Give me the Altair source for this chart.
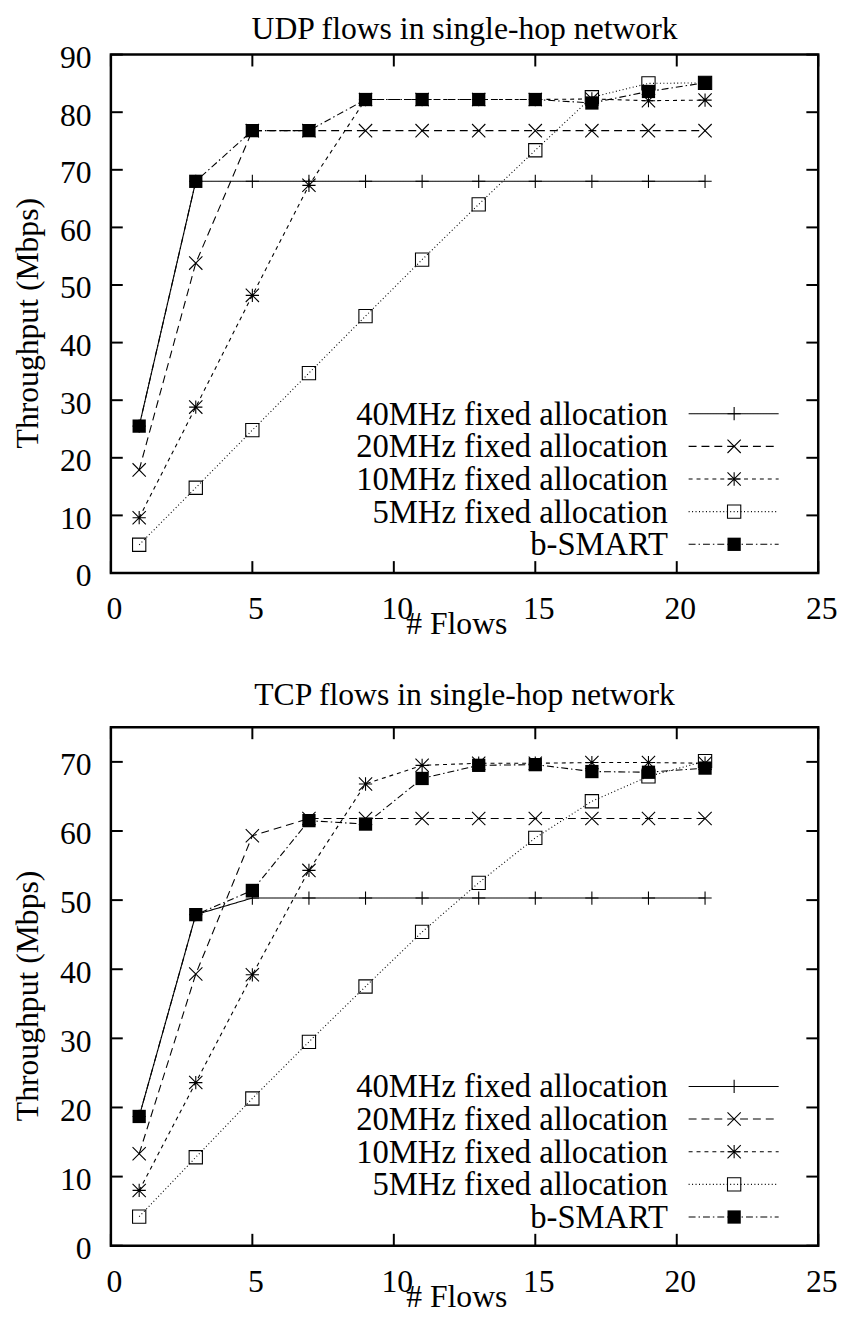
import altair as alt
import pandas as pd

# ---------------- data ----------------
flows = [1, 3, 5, 7, 9, 11, 13, 15, 17, 19, 21]
series_names = ["40MHz fixed allocation", "20MHz fixed allocation",
                "10MHz fixed allocation", "5MHz fixed allocation", "b-SMART"]

udp_40 = [25.5, 68.0, 68.0, 68.0, 68.0, 68.0, 68.0, 68.0, 68.0, 68.0, 68.0]
udp_20 = [17.9, 53.8, 76.8, 76.8, 76.8, 76.8, 76.8, 76.8, 76.8, 76.8, 76.8]
udp_10 = [9.6, 28.8, 48.2, 67.3, 82.2, 82.2, 82.2, 82.2, 82.3, 82.0, 82.1]
udp_5 = [4.9, 14.8, 24.8, 34.7, 44.6, 54.4, 64.0, 73.4, 82.6, 85.0, 85.1]
udp_b = [25.5, 68.0, 76.8, 76.8, 82.2, 82.2, 82.2, 82.2, 81.6, 83.6, 85.1]

tcp_40 = [18.7, 47.9, 50.3, 50.3, 50.3, 50.3, 50.3, 50.3, 50.3, 50.3, 50.3]
tcp_20 = [13.3, 39.3, 59.3, 61.8, 61.8, 61.8, 61.8, 61.8, 61.8, 61.8, 61.8]
tcp_10 = [8.0, 23.6, 39.2, 54.3, 66.8, 69.5, 69.8, 69.8, 69.9, 69.9, 69.8]
tcp_5 = [4.2, 12.8, 21.3, 29.5, 37.5, 45.4, 52.5, 59.0, 64.3, 67.9, 70.1]
tcp_b = [18.7, 47.9, 51.4, 61.5, 61.0, 67.6, 69.5, 69.6, 68.6, 68.5, 69.1]

x_ticks = [0, 5, 10, 15, 20, 25]
udp_y_ticks = [0, 10, 20, 30, 40, 50, 60, 70, 80, 90]
tcp_y_ticks = [0, 10, 20, 30, 40, 50, 60, 70]

# ---------------- style ----------------
FONT = "Liberation Serif"
FS = 32
W, H = 715, 524
TICK = 12

dashes = [[1, 0], [8, 5], [4, 4], [1, 2.5], [7, 3, 1.5, 3]]
plus = "M-1,0L1,0M0,-1L0,1"
cross = "M-1,-1L1,1M-1,1L1,-1"
star = "M-1,0L1,0M0,-1L0,1M-1,-1L1,1M-1,1L1,-1"
shapes = [plus, cross, star, "square", "square"]
sizes = [180, 180, 150, 180, 180]


def panel(title, series, ymax, yticks, title_offset):
    rows = []
    for name, vals in zip(series_names, series):
        for f, v in zip(flows, vals):
            rows.append({"flows": f, "value": v, "name": name})
    df = pd.DataFrame(rows)

    x_enc = alt.X("flows:Q",
                  scale=alt.Scale(domain=[0, 25], nice=False, zero=False),
                  axis=alt.Axis(values=x_ticks, title="# Flows", ticks=False,
                                domain=False, grid=False, labelFlush=False,
                                labelOverlap=False, labelFont=FONT,
                                labelFontSize=FS, labelColor="black",
                                labelPadding=21, labelOffset=3,
                                titleFont=FONT, titleFontSize=FS,
                                titleFontWeight="normal", titleColor="black",
                                titleX=298, titleY=61, titleAlign="left",
                                titleBaseline="alphabetic"))
    y_enc = alt.Y("value:Q",
                  scale=alt.Scale(domain=[0, ymax], nice=False, zero=True),
                  axis=alt.Axis(values=yticks, title="Throughput (Mbps)",
                                ticks=False, domain=False, grid=False,
                                labelFlush=False, labelOverlap=False,
                                labelFont=FONT, labelFontSize=FS,
                                labelColor="black", labelPadding=20,
                                labelOffset=3,
                                titleFont=FONT, titleFontSize=FS,
                                titleFontWeight="normal", titleColor="black",
                                titleAngle=270, titleX=-74, titleY=H / 2 + 9,
                                titleAlign="center",
                                titleBaseline="alphabetic"))

    dash_enc = alt.StrokeDash("name:N",
                              scale=alt.Scale(domain=series_names, range=dashes),
                              legend=None)
    shape_enc = alt.Shape("name:N",
                          scale=alt.Scale(domain=series_names, range=shapes),
                          legend=None)
    size_enc = alt.Size("name:N",
                        scale=alt.Scale(domain=series_names, range=sizes),
                        legend=None)

    base = alt.Chart(df)
    lines = base.mark_line(color="black", strokeWidth=1.1).encode(
        x=x_enc, y=y_enc, strokeDash=dash_enc)
    open_pts = base.transform_filter(alt.datum.name != "b-SMART").mark_point(
        filled=False, color="black", strokeWidth=1.1, opacity=1).encode(
        x=x_enc, y=y_enc, shape=shape_enc, size=size_enc)
    full_pts = base.transform_filter(alt.datum.name == "b-SMART").mark_point(
        filled=True, color="black", opacity=1, shape="square", size=180).encode(
        x=x_enc, y=y_enc)

    ytdf = pd.DataFrame({"value": yticks})
    xtdf = pd.DataFrame({"flows": x_ticks})
    tl = alt.Chart(ytdf).mark_rule(color="black", strokeWidth=2).encode(
        y=y_enc, x=alt.value(0), x2=alt.value(TICK))
    tr = alt.Chart(ytdf).mark_rule(color="black", strokeWidth=2).encode(
        y=y_enc, x=alt.value(W - TICK), x2=alt.value(W))
    tb = alt.Chart(xtdf).mark_rule(color="black", strokeWidth=2).encode(
        x=x_enc, y=alt.value(H - TICK), y2=alt.value(H))
    tt = alt.Chart(xtdf).mark_rule(color="black", strokeWidth=2).encode(
        x=x_enc, y=alt.value(0), y2=alt.value(TICK))

    inner = alt.layer(tl, tr, tb, tt, lines, open_pts, full_pts)

    # legend (gnuplot style: text on the left, sample on the right)
    ldf = pd.DataFrame({"name": series_names})
    ly = alt.Y("name:N", scale=alt.Scale(type="point", domain=series_names,
                                         range=[363, 495], padding=0),
               axis=None)
    ltext = alt.Chart(ldf).mark_text(align="right", baseline="alphabetic",
                                     dy=11, font=FONT, fontSize=33,
                                     color="black").encode(
        x=alt.value(563), y=ly, text="name:N")
    lline = alt.Chart(ldf).mark_rule(color="black", strokeWidth=1.1).encode(
        x=alt.value(584), x2=alt.value(675), y=ly, strokeDash=dash_enc)
    lopen = alt.Chart(ldf).transform_filter(
        alt.datum.name != "b-SMART").mark_point(
        filled=False, color="black", strokeWidth=1.1, opacity=1).encode(
        x=alt.value(630), y=ly, shape=shape_enc, size=size_enc)
    lfull = alt.Chart(ldf).transform_filter(
        alt.datum.name == "b-SMART").mark_point(
        filled=True, color="black", opacity=1, shape="square", size=180).encode(
        x=alt.value(630), y=ly)
    legend = alt.layer(ltext, lline, lopen, lfull)

    return alt.layer(inner, legend).resolve_scale(y="independent").properties(
        width=W, height=H,
        title=alt.TitleParams(title, font=FONT, fontSize=FS,
                              fontWeight="normal", color="black",
                              anchor="middle", frame="group",
                              offset=title_offset, baseline="alphabetic"))


top = panel("UDP flows in single-hop network",
            [udp_40, udp_20, udp_10, udp_5, udp_b], 90, udp_y_ticks, -29)
bottom = panel("TCP flows in single-hop network",
               [tcp_40, tcp_20, tcp_10, tcp_5, tcp_b], 75, tcp_y_ticks, -10)

chart = alt.vconcat(top, bottom, spacing=36).properties(
    padding={"left": 2, "top": -4, "right": 0, "bottom": 0},
    background="white",
).configure_view(stroke="black", strokeWidth=2.5)

chart.save("out.html", embed_options={"renderer": "svg", "actions": False})
